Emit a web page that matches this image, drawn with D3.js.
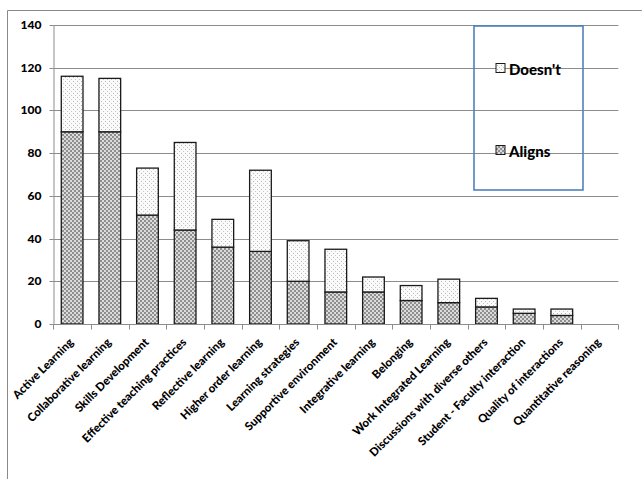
<!DOCTYPE html>
<html>
<head>
<meta charset="utf-8">
<script src="https://cdn.jsdelivr.net/npm/d3@7"></script>
<style>
  html, body { margin: 0; padding: 0; background: #fff; }
  svg { display: block; }
  text { font-family: Lato, "Noto Sans", sans-serif; font-weight: 900; fill: #000; }
</style>
</head>
<body>
<svg id="chart" width="642" height="479"></svg>
<script>
// Categories along the x axis
const categories = [
  "Active Learning", "Collaborative learning", "Skills Development",
  "Effective teaching practices", "Reflective learning", "Higher order learning",
  "Learning strategies", "Supportive environment", "Integrative learning",
  "Belonging", "Work Integrated Learning", "Discussions with diverse others",
  "Student - Faculty interaction", "Quality of interactions", "Quantitative reasoning"
];
// Counts per category
const aligns  = [90, 90, 51, 44, 36, 34, 20, 15, 15, 11, 10, 8, 5, 4, 0];
const doesnt  = [26, 25, 22, 41, 13, 38, 19, 20,  7,  7, 11, 4, 2, 3, 0];
const seriesNames = ["Aligns", "Doesn't"];
const yTicks = [0, 20, 40, 60, 80, 100, 120, 140];

const svg = d3.select("#chart");
const W = 642, H = 479;
const plot = { left: 53.3, right: 618.3, top: 25, bottom: 324 };

// Fill patterns
const defs = svg.append("defs");
const pAl = defs.append("pattern").attr("id", "patAligns")
  .attr("patternUnits", "userSpaceOnUse").attr("width", 4).attr("height", 4);
pAl.append("rect").attr("width", 4).attr("height", 4).attr("fill", "#dcdcdc");
pAl.append("rect").attr("x", 0).attr("y", 0).attr("width", 2).attr("height", 2).attr("fill", "#8e8e8e");
pAl.append("rect").attr("x", 2).attr("y", 2).attr("width", 2).attr("height", 2).attr("fill", "#8e8e8e");

const pDo = defs.append("pattern").attr("id", "patDoesnt")
  .attr("patternUnits", "userSpaceOnUse").attr("width", 4).attr("height", 4);
pDo.append("rect").attr("width", 4).attr("height", 4).attr("fill", "#fafafa");
pDo.append("rect").attr("x", 1).attr("y", 1).attr("width", 1).attr("height", 1).attr("fill", "#b8b8b8");
pDo.append("rect").attr("x", 3).attr("y", 3).attr("width", 1).attr("height", 1).attr("fill", "#c8c8c8");

const fills = { "Aligns": "url(#patAligns)", "Doesn't": "url(#patDoesnt)" };

// Chart frame
svg.append("path")
  .attr("d", `M7.5,${H} L7.5,10.5 L${W},10.5`)
  .attr("fill", "none").attr("stroke", "#8a8a8a").attr("stroke-width", 1);

const x = d3.scaleBand().domain(categories)
  .range([plot.left, plot.right]).paddingInner(0.424).paddingOuter(0.212);
const y = d3.scaleLinear().domain([0, 140]).range([plot.bottom, plot.top]);

// Gridlines
svg.append("g").selectAll("line").data(yTicks.filter(d => d > 0)).join("line")
  .attr("x1", plot.left).attr("x2", plot.right)
  .attr("y1", d => Math.round(y(d)) + 0.5).attr("y2", d => Math.round(y(d)) + 0.5)
  .attr("stroke", "#8c8c8c").attr("stroke-width", 1);

// Y axis
const yAxis = svg.append("g")
  .attr("transform", `translate(${Math.round(plot.left) + 0.5},0)`)
  .call(d3.axisLeft(y).tickValues(yTicks).tickSize(4).tickPadding(8).tickSizeOuter(0));
yAxis.select(".domain").attr("stroke", "#8c8c8c");
yAxis.selectAll(".tick line").attr("stroke", "#8c8c8c");
yAxis.selectAll(".tick").attr("transform", d => `translate(0,${Math.round(y(d)) + 0.5})`);
yAxis.selectAll(".tick text")
  .style("font-family", "Lato, 'Noto Sans', sans-serif")
  .style("font-weight", "900").style("font-size", "12px").attr("fill", "#000");

// Stacked bars
const rows = categories.map((c, i) => ({ cat: c, "Aligns": aligns[i], "Doesn't": doesnt[i] }));
const stacked = d3.stack().keys(seriesNames)(rows);

svg.append("g").selectAll("g").data(stacked).join("g")
  .attr("fill", s => fills[s.key])
  .selectAll("rect").data(s => s.filter(d => d[1] - d[0] > 0)).join("rect")
  .attr("x", d => x(d.data.cat))
  .attr("width", x.bandwidth())
  .attr("y", d => y(d[1]))
  .attr("height", d => y(d[0]) - y(d[1]))
  .attr("stroke", "#1a1a1a").attr("stroke-width", 1.3);

// X axis line and tick marks at category boundaries
const xAxisY = Math.round(plot.bottom) + 0.5;
svg.append("line")
  .attr("x1", plot.left).attr("x2", plot.right)
  .attr("y1", xAxisY).attr("y2", xAxisY)
  .attr("stroke", "#8c8c8c");
const bounds = d3.range(categories.length + 1).map(i => plot.left + i * (plot.right - plot.left) / categories.length);
svg.append("g").selectAll("line").data(bounds).join("line")
  .attr("x1", d => Math.round(d) + 0.5).attr("x2", d => Math.round(d) + 0.5)
  .attr("y1", xAxisY).attr("y2", xAxisY + 5)
  .attr("stroke", "#8c8c8c");

// Rotated category labels
svg.append("g").selectAll("text").data(categories).join("text")
  .attr("transform", d => `translate(${x(d) + x.bandwidth() / 2 + 2},${plot.bottom + 19}) rotate(-45)`)
  .attr("text-anchor", "end")
  .style("font-size", "11.5px")
  .text(d => d);

// Legend
svg.append("rect")
  .attr("x", 474).attr("y", 26).attr("width", 109).attr("height", 164)
  .attr("fill", "none").attr("stroke", "#4f81bd").attr("stroke-width", 1.6);

const legendItems = [
  { name: "Doesn't", sy: 63.5 },
  { name: "Aligns", sy: 145.5 }
];
const lg = svg.append("g").selectAll("g").data(legendItems).join("g");
lg.append("rect")
  .attr("x", 496).attr("y", d => d.sy).attr("width", 9).attr("height", 9)
  .attr("fill", d => fills[d.name]).attr("stroke", "#1a1a1a").attr("stroke-width", 1);
lg.append("text")
  .attr("x", 509).attr("y", d => d.sy + 11)
  .style("font-size", "15px")
  .text(d => d.name);
</script>
</body>
</html>
